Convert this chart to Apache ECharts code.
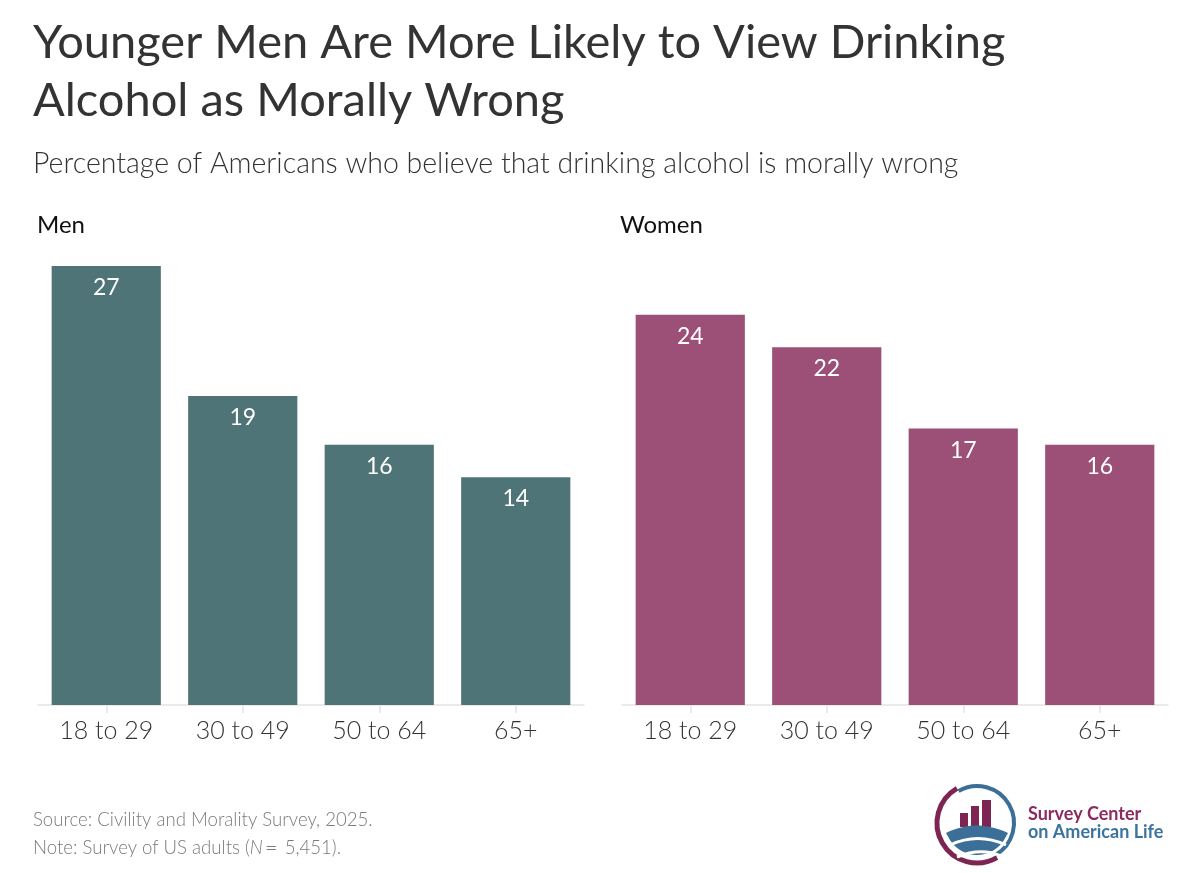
<!DOCTYPE html>
<html lang="en">
<head>
    <meta charset="utf-8">
    <title>Drinking alcohol morally wrong</title>
    <script src="https://cdn.jsdelivr.net/npm/echarts@6/dist/echarts.min.js"></script>
    <style>
        html, body { margin: 0; padding: 0; background: #fff; }
        #main { width: 1200px; height: 873px; }
    </style>
</head>
<body>
<div id="main"></div>
<script type="text/javascript">
    // data
    var ageGroups = ['18 to 29', '30 to 49', '50 to 64', '65+'];
    var menValues = [27, 19, 16, 14];
    var womenValues = [24, 22, 17, 16];

    var FONT = 'Lato, "Open Sans", sans-serif';
    var menColor = '#4e7477';
    var womenColor = '#9c5078';

    var myChart = echarts.init(document.getElementById('main'), null, {renderer: 'canvas'});

    function xAxisFor(idx) {
        return {
            type: 'category',
            gridIndex: idx,
            data: ageGroups,
            axisLine: {show: true, lineStyle: {color: '#e3e3e3', width: 1.5}},
            axisTick: {show: true, alignWithLabel: true, length: 8, lineStyle: {color: '#e3e3e3', width: 1.5}},
            axisLabel: {color: '#333', fontSize: 25, fontWeight: 300, fontFamily: FONT, margin: 13}
        };
    }
    function yAxisFor(idx) {
        return {type: 'value', gridIndex: idx, min: 0, max: 27, show: false, splitLine: {show: false}};
    }
    function barSeries(idx, values, color) {
        return {
            type: 'bar',
            xAxisIndex: idx,
            yAxisIndex: idx,
            data: values,
            barCategoryGap: '20%',
            itemStyle: {color: color},
            label: {
                show: true,
                position: 'insideTop',
                distance: 10,
                color: '#fff',
                fontSize: 23,
                fontFamily: FONT
            },
            silent: true
        };
    }

    // logo hill shape: quadratic top edge, circular bottom edge
    var lcx = 977, lcy = 823, lr = 32;
    var hill = [];
    for (var i = 0; i <= 20; i++) {
        var t = i / 20;
        hill.push([
            (1 - t) * (1 - t) * 946 + 2 * (1 - t) * t * 976 + t * t * 1008,
            (1 - t) * (1 - t) * 833 + 2 * (1 - t) * t * 818 + t * t * 833
        ]);
    }
    var a0 = Math.atan2(833 - lcy, 1008 - lcx), a1 = Math.atan2(833 - lcy, 946 - lcx);
    for (var j = 1; j < 20; j++) {
        var a = a0 + (a1 - a0) * j / 20;
        hill.push([lcx + lr * Math.cos(a), lcy + lr * Math.sin(a)]);
    }

    var option = {
        backgroundColor: '#fff',
        animation: false,
        title: [
            {
                text: 'Younger Men Are More Likely to View Drinking\nAlcohol as Morally Wrong',
                left: 28, top: 9,
                textStyle: {fontSize: 47, fontWeight: 'normal', color: '#333', fontFamily: FONT, lineHeight: 58}
            },
            {
                text: 'Percentage of Americans who believe that drinking alcohol is morally wrong',
                left: 28, top: 144,
                textStyle: {fontSize: 28.5, fontWeight: 300, color: '#333', fontFamily: FONT}
            },
            {
                text: 'Men', left: 32, top: 208,
                textStyle: {fontSize: 24, fontWeight: 'normal', color: '#111', fontFamily: FONT}
            },
            {
                text: 'Women', left: 615, top: 208,
                textStyle: {fontSize: 24, fontWeight: 'normal', color: '#111', fontFamily: FONT}
            },
            {
                text: 'Source: Civility and Morality Survey, 2025.\nNote: Survey of US adults ({i|N}{eq|=} 5,451).',
                left: 28, top: 801,
                textStyle: {
                    fontSize: 18.6, fontWeight: 300, color: '#7a7a7a', fontFamily: FONT, lineHeight: 28,
                    rich: {
                        i: {fontStyle: 'italic', fontWeight: 300, fontSize: 18.6, color: '#7a7a7a', fontFamily: FONT},
                        eq: {fontWeight: 300, fontSize: 22, color: '#7a7a7a', fontFamily: FONT, padding: [0, 2, 0, 2]}
                    }
                }
            }
        ],
        grid: [
            {left: 38, width: 546, top: 266, bottom: 168, containLabel: false},
            {left: 622, width: 546, top: 266, bottom: 168, containLabel: false}
        ],
        xAxis: [xAxisFor(0), xAxisFor(1)],
        yAxis: [yAxisFor(0), yAxisFor(1)],
        series: [
            barSeries(0, menValues, menColor),
            barSeries(1, womenValues, womenColor)
        ],
        graphic: [
            // logo: ring
            {type: 'arc', shape: {cx: lcx, cy: lcy, r: 40, startAngle: Math.PI / 3, endAngle: Math.PI * 4 / 3},
                style: {stroke: '#7d2452', lineWidth: 5, fill: null}},
            {type: 'arc', shape: {cx: lcx, cy: lcy, r: 37, startAngle: Math.PI * 4 / 3, endAngle: Math.PI * 7 / 3},
                style: {stroke: '#3b6f98', lineWidth: 4, fill: null}},
            // logo: bars
            {type: 'rect', shape: {x: 960, y: 813, width: 8, height: 14}, style: {fill: '#7d2452'}},
            {type: 'rect', shape: {x: 971, y: 806, width: 8, height: 21}, style: {fill: '#7d2452'}},
            {type: 'rect', shape: {x: 982, y: 800, width: 9, height: 27}, style: {fill: '#7d2452'}},
            // logo: hills
            {type: 'polygon', shape: {points: hill}, style: {fill: '#3b6f98'}},
            {type: 'bezierCurve', shape: {x1: 950, y1: 845, cpx1: 978, cpy1: 832, x2: 1006, y2: 845},
                style: {stroke: '#fff', lineWidth: 3, fill: null}},
            {type: 'bezierCurve', shape: {x1: 957, y1: 857, cpx1: 981, cpy1: 847, x2: 1001, y2: 856},
                style: {stroke: '#fff', lineWidth: 3, fill: null}},
            // logo text
            {type: 'text', left: 1028, top: 805,
                style: {text: 'Survey Center', fill: '#8b2b5e', fontSize: 18, fontWeight: 'bold', fontFamily: FONT}},
            {type: 'text', left: 1028, top: 823,
                style: {text: 'on American Life', fill: '#3b74a0', fontSize: 18, fontWeight: 'bold', fontFamily: FONT}}
        ]
    };

    myChart.setOption(option);
</script>
</body>
</html>
